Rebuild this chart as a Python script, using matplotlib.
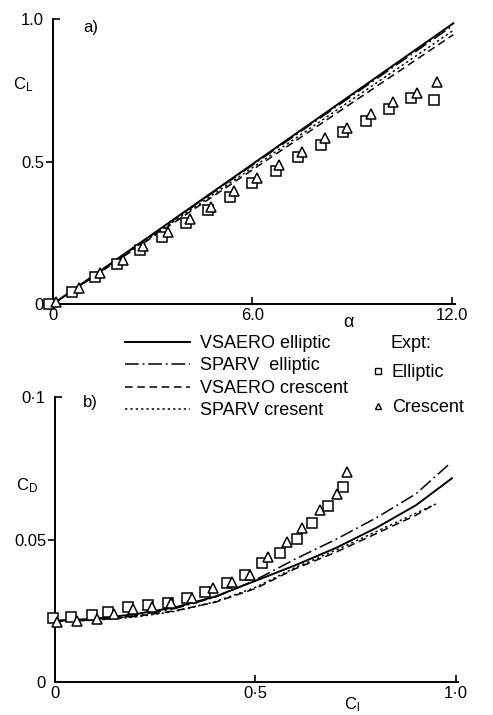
import matplotlib
matplotlib.use("Agg")
import matplotlib.pyplot as plt
from matplotlib.lines import Line2D

FONT = "Liberation Sans"
plt.rcParams.update({
    "font.family": [FONT, "DejaVu Sans"],
    "font.size": 12,
    "mathtext.fontset": "custom",
    "mathtext.rm": FONT,
    "mathtext.it": FONT,
})

# ---- (a) lift curve: C_L against alpha -------------------------------------------
alpha_line = [0.0, 12.05]
cl_vsaero_ell = [0.0, 0.985]
cl_sparv_ell = [0.0, 0.978]
cl_vsaero_cre = [0.0, 0.945]
cl_sparv_cre = [0.0, 0.96]

alpha_ell = [-0.12, 0.57, 1.26, 1.92, 2.61, 3.27, 3.99, 4.68, 5.34, 6.0, 6.72, 7.38,
             8.07, 8.73, 9.42, 10.11, 10.77, 11.46]
cl_ell = [0.0, 0.042, 0.095, 0.14, 0.19, 0.235, 0.284, 0.33, 0.376, 0.424, 0.467, 0.516,
          0.558, 0.603, 0.643, 0.684, 0.723, 0.716]
alpha_cre = [0.09, 0.78, 1.41, 2.1, 2.7, 3.45, 4.11, 4.77, 5.46, 6.15, 6.81, 7.5,
             8.19, 8.85, 9.57, 10.23, 10.95, 11.55]
cl_cre = [0.007, 0.056, 0.109, 0.154, 0.204, 0.253, 0.298, 0.34, 0.397, 0.442, 0.488,
          0.533, 0.582, 0.618, 0.667, 0.709, 0.74, 0.779]

# ---- (b) drag polar: C_D against C_L ----------------------------------------------
clb_vsaero_ell = [0, 0.1, 0.2, 0.3, 0.4, 0.5, 0.6, 0.7, 0.8, 0.9, 0.99]
cd_vsaero_ell = [0.0215, 0.0222, 0.0238, 0.0262, 0.0300, 0.0355, 0.0410, 0.0470,
                 0.0540, 0.0620, 0.0715]
clb_sparv_ell = [0, 0.1, 0.2, 0.3, 0.4, 0.5, 0.6, 0.7, 0.8, 0.9, 0.985]
cd_sparv_ell = [0.0215, 0.0218, 0.0232, 0.0258, 0.0298, 0.0358, 0.0432, 0.0500,
                0.0575, 0.0660, 0.0767]
clb_vsaero_cre = [0, 0.1, 0.2, 0.3, 0.4, 0.5, 0.6, 0.7, 0.8, 0.9, 0.94]
cd_vsaero_cre = [0.0212, 0.0218, 0.0230, 0.0250, 0.0280, 0.0328, 0.0398, 0.0455,
                 0.0520, 0.0585, 0.0618]
clb_sparv_cre = [0, 0.1, 0.2, 0.3, 0.4, 0.5, 0.6, 0.7, 0.8, 0.9, 0.955]
cd_sparv_cre = [0.0212, 0.0217, 0.0228, 0.0248, 0.0282, 0.0332, 0.0402, 0.0462,
                0.0527, 0.0592, 0.0628]

clx_ell = [-0.004, 0.039, 0.092, 0.133, 0.183, 0.233, 0.283, 0.329, 0.373, 0.429,
           0.475, 0.517, 0.561, 0.603, 0.642, 0.682, 0.719]
cd_ell = [0.0226, 0.0227, 0.0235, 0.0244, 0.0262, 0.027, 0.0278, 0.0296, 0.0315,
          0.0346, 0.0375, 0.0419, 0.0454, 0.0502, 0.0557, 0.0618, 0.0685]
clx_cre = [0.004, 0.054, 0.104, 0.148, 0.194, 0.242, 0.29, 0.342, 0.393, 0.442,
           0.487, 0.531, 0.579, 0.617, 0.661, 0.703, 0.729]
cd_cre = [0.0212, 0.0214, 0.022, 0.0239, 0.0255, 0.0264, 0.0276, 0.0296, 0.0331,
          0.0352, 0.0376, 0.044, 0.0492, 0.0539, 0.0604, 0.066, 0.0738]

LABELS = ["VSAERO elliptic", "SPARV  elliptic", "VSAERO crescent", "SPARV cresent"]
STYLES = [dict(ls="-", lw=1.4),
          dict(ls=(0, (9, 2.5, 1.2, 2.5)), lw=1.1),
          dict(ls=(0, (5, 3)), lw=1.1),
          dict(ls=(0, (1.5, 2)), lw=1.1)]
MK = dict(ls="none", mfc="white", mec="black", mew=1.1, ms=7.5, clip_on=False, zorder=5)

W, H = 493, 715
fig = plt.figure(figsize=(W / 100, H / 100), dpi=100)


def frame(ax):
    for s in ("top", "right"):
        ax.spines[s].set_visible(False)
    for s in ("left", "bottom"):
        ax.spines[s].set_linewidth(1.4)
    ax.tick_params(axis="x", which="both", direction="in", length=5, width=1.2, pad=3)
    ax.tick_params(axis="y", which="major", direction="out", length=5, width=1.2, pad=1)
    ax.tick_params(axis="y", which="minor", direction="in", length=5, width=1.2, pad=7)


# ---- panel a ----
axa = fig.add_axes([53 / W, 1 - 304 / H, 402 / W, 285 / H])
for y, st in zip([cl_vsaero_ell, cl_sparv_ell, cl_vsaero_cre, cl_sparv_cre], STYLES):
    axa.plot(alpha_line, y, color="black", **st)
axa.plot(alpha_ell, cl_ell, marker="s", **MK)
axa.plot(alpha_cre, cl_cre, marker="^", **MK)
axa.set_xlim(0, 12.1)
axa.set_ylim(0, 1.0)
frame(axa)
axa.set_xticks([0, 6, 12], ["0", "6.0", "12.0"])
axa.set_yticks([0.5], ["0.5"])
axa.set_yticks([0, 1.0], ["0", "1.0"], minor=True)
axa.text(0.9, 0.97, "a)", ha="left", va="center", fontsize=12)
axa.text(-0.9, 0.77, r"C$_{\mathrm{L}}$", ha="center", va="center", fontsize=12)
axa.text(8.9, -0.065, "α", ha="center", va="center", fontsize=13)

# ---- panel b ----
axb = fig.add_axes([55 / W, 1 - 682 / H, 403 / W, 285 / H])
lines = []
for x, y, st in zip([clb_vsaero_ell, clb_sparv_ell, clb_vsaero_cre, clb_sparv_cre],
                    [cd_vsaero_ell, cd_sparv_ell, cd_vsaero_cre, cd_sparv_cre], STYLES):
    lines += axb.plot(x, y, color="black", **st)
axb.plot(clx_ell, cd_ell, marker="s", **MK)
axb.plot(clx_cre, cd_cre, marker="^", **MK)
axb.set_xlim(0, 1.005)
axb.set_ylim(0, 0.1)
frame(axb)
axb.set_xticks([0, 0.5, 1.0], ["0", "0·5", "1·0"])
axb.set_yticks([0.05], ["0.05"])
axb.set_yticks([0, 0.1], ["0", "0·1"], minor=True)
axb.text(0.07, 0.098, "b)", ha="left", va="center", fontsize=12)
axb.text(-0.07, 0.069, r"C$_{\mathrm{D}}$", ha="center", va="center", fontsize=12)
axb.text(0.74, -0.0113, r"C$_{\mathrm{l}}$", ha="center", va="bottom", fontsize=12)

# ---- legends between the panels ----
fig.legend(lines, LABELS, loc="upper left", bbox_to_anchor=(125 / W, 1 - 335 / H),
           frameon=False, fontsize=13, handlelength=3.6, handletextpad=0.55,
           labelspacing=0.3, borderpad=0, borderaxespad=0)
fig.text(390 / W, 1 - 343 / H, "Expt:", ha="left", va="center", fontsize=13)
proxies = [Line2D([], [], marker="s", ls="none", mfc="white", mec="black", mew=1.0, ms=5),
           Line2D([], [], marker="^", ls="none", mfc="white", mec="black", mew=1.0, ms=5)]
fig.legend(proxies, ["Elliptic", "Crescent"], loc="upper left",
           bbox_to_anchor=(371 / W, 1 - 364 / H), frameon=False, fontsize=13,
           handlelength=0.8, handletextpad=0.35, labelspacing=1.0, borderpad=0,
           borderaxespad=0)

fig.savefig("out.png", dpi=100, facecolor="white")
